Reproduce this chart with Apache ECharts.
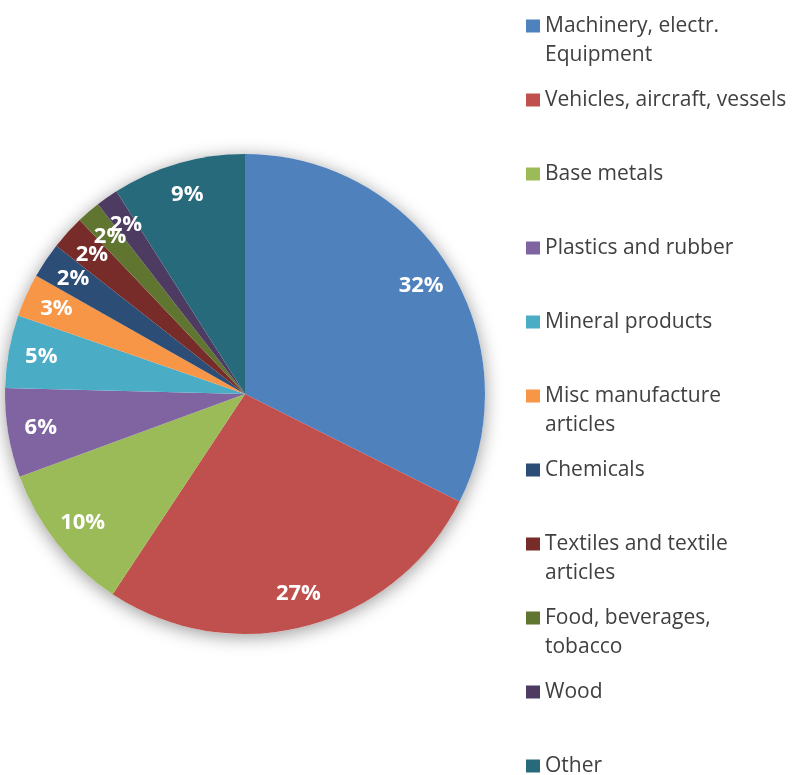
<!DOCTYPE html>
<html>
<head>
<meta charset="utf-8">
<script src="https://cdn.jsdelivr.net/npm/echarts@6/dist/echarts.min.js"></script>
<style>
    html, body { margin: 0; padding: 0; background: #fff; }
    #chart { width: 792px; height: 775px; }
</style>
</head>
<body>
<div id="chart"></div>
<script>
    var categories = ['Machinery, electr. Equipment', 'Vehicles, aircraft, vessels', 'Base metals',
        'Plastics and rubber', 'Mineral products', 'Misc manufacture articles', 'Chemicals',
        'Textiles and textile articles', 'Food, beverages, tobacco', 'Wood', 'Other'];
    var legendText = ['Machinery, electr.\nEquipment', 'Vehicles, aircraft, vessels', 'Base metals',
        'Plastics and rubber', 'Mineral products', 'Misc manufacture\narticles', 'Chemicals',
        'Textiles and textile\narticles', 'Food, beverages,\ntobacco', 'Wood', 'Other'];
    // share of total, percent
    var shares = [32.4, 26.9, 10.1, 6.0, 4.9, 2.9, 2.4, 2.3, 1.6, 1.5, 9.0];
    var colors = ['#4F81BD', '#C0504D', '#9BBB59', '#8064A2', '#4BACC6', '#F79646',
        '#2C4D75', '#772C2A', '#5F7530', '#4D3B62', '#276A7C'];

    var pieData = categories.map(function (name, i) {
        return { name: name, value: shares[i], itemStyle: { color: colors[i] } };
    });
    var total = shares.reduce(function (a, b) { return a + b; }, 0);

    var chart = echarts.init(document.getElementById('chart'));
    chart.setOption({
        animation: false,
        backgroundColor: '#fff',
        legend: {
            orient: 'vertical',
            left: 526,
            top: 11.5,
            height: 800,
            padding: 0,
            itemWidth: 14,
            itemHeight: 58,
            itemGap: 16,
            selectedMode: false,
            // square sits on the first text line
            icon: 'path://M0,0L0.01,0M0,8L14,8L14,21L0,21ZM0,58L0.01,58',
            itemStyle: { borderWidth: 0 },
            data: categories,
            formatter: function (name) {
                var t = legendText[categories.indexOf(name)];
                return t.indexOf('\n') < 0 ? t + '\n ' : t;
            },
            textStyle: {
                fontFamily: 'Open Sans',
                fontSize: 21,
                lineHeight: 29,
                color: '#404040'
            }
        },
        series: [
            {
                // soft shadow under the whole pie
                type: 'pie',
                silent: true,
                center: [245, 394],
                radius: [0, 240],
                label: { show: false },
                labelLine: { show: false },
                itemStyle: {
                    color: '#fff',
                    shadowBlur: 18,
                    shadowColor: 'rgba(0,0,0,0.4)',
                    shadowOffsetX: 0,
                    shadowOffsetY: 3
                },
                data: [{ name: '', value: total }]
            },
            {
                type: 'pie',
                center: [245, 394],
                radius: [0, 240],
                startAngle: 90,
                clockwise: true,
                label: { show: false },
                labelLine: { show: false },
                emphasis: { disabled: true },
                itemStyle: { borderWidth: 0 },
                data: pieData
            },
            {
                // transparent ring, only carries the percent labels
                type: 'pie',
                silent: true,
                center: [245, 394],
                radius: [168, 240],
                startAngle: 90,
                clockwise: true,
                avoidLabelOverlap: false,
                labelLayout: { hideOverlap: false },
                itemStyle: { color: 'rgba(0,0,0,0)', borderWidth: 0 },
                labelLine: { show: false },
                label: {
                    show: true,
                    position: 'inside',
                    formatter: function (p) { return Math.round(p.percent) + '%'; },
                    color: '#fff',
                    fontFamily: 'Open Sans',
                    fontWeight: 'bold',
                    fontSize: 22,
                    padding: [7, 0, 0, 0],
                    textBorderWidth: 0
                },
                data: categories.map(function (name, i) {
                    return { name: name, value: shares[i] };
                })
            }
        ]
    });
</script>
</body>
</html>
